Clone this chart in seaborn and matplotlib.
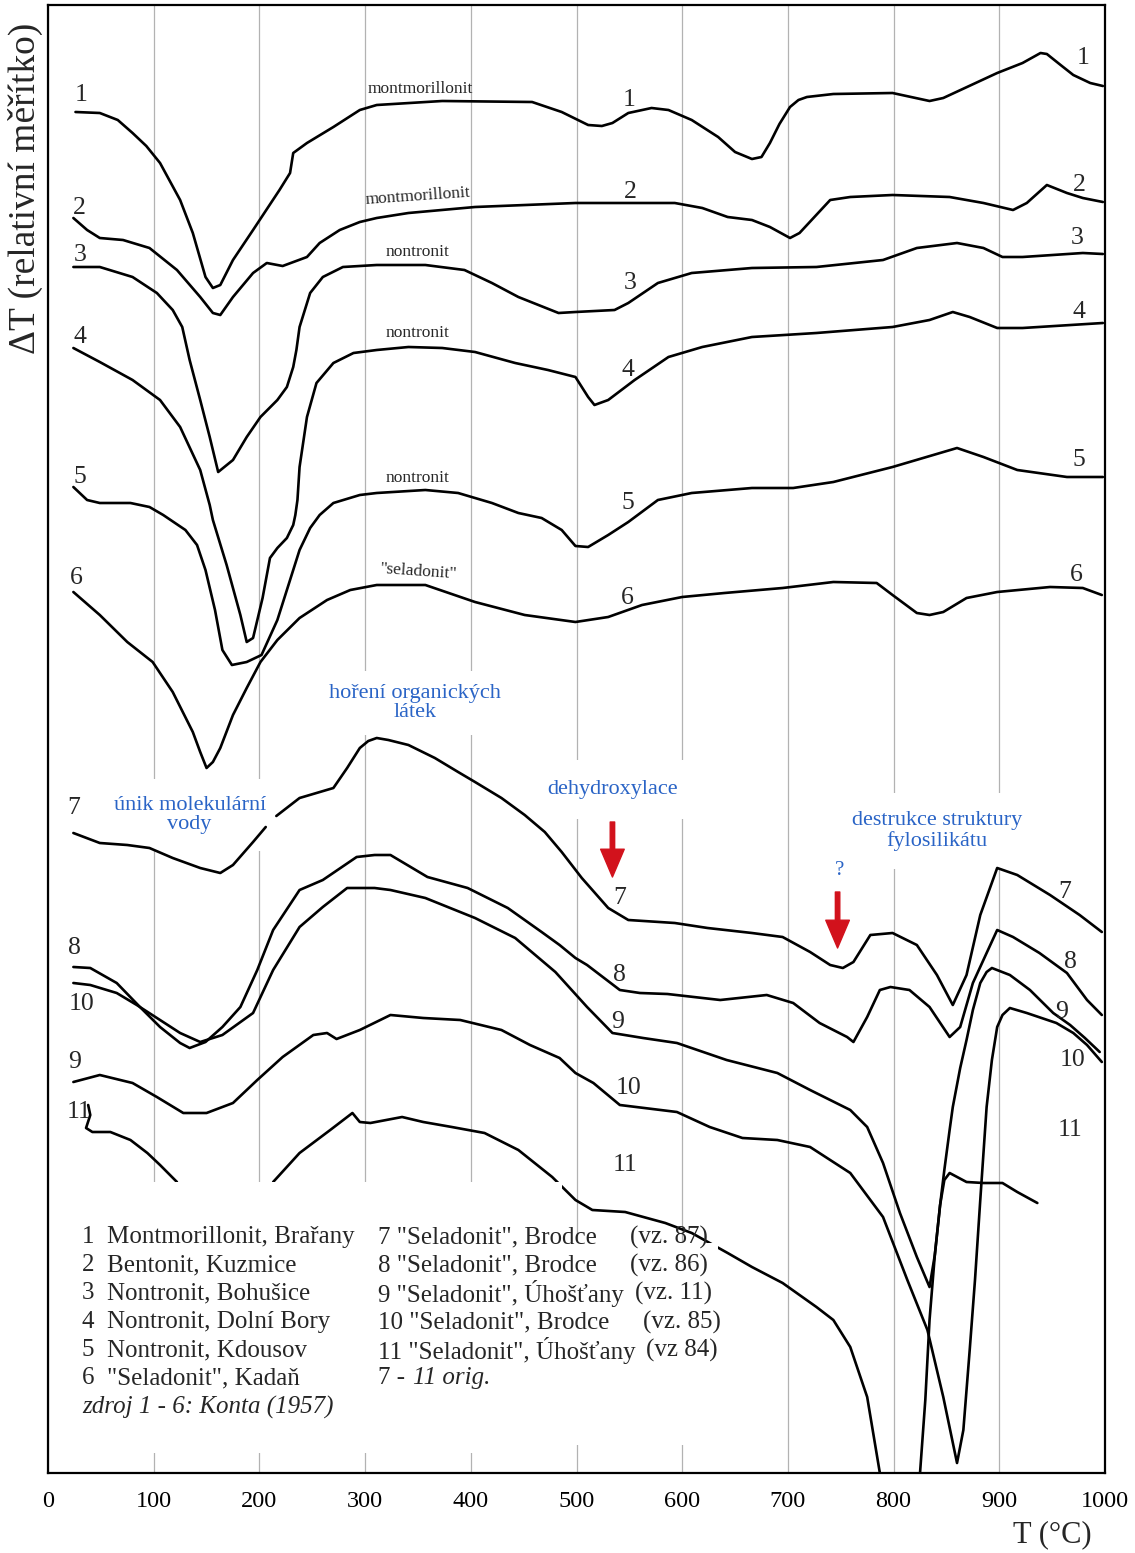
"""
DTA křivky jílových minerálů a seladonitu (ΔT vs. T)
Values read off the scanned chart; y is the relative ΔT position (pixel row, axis inverted).
"""

import matplotlib
matplotlib.use('Agg')
import matplotlib.pyplot as plt
from matplotlib.patches import Rectangle
import seaborn as sns

# ─────────────────────────────────────────────
# Data  (T in °C, dt = relative deflection, larger = lower on the chart)
# ─────────────────────────────────────────────
t1 = [26, 49, 66, 80, 93, 106, 125, 137, 149, 156, 163, 175, 194, 219, 229, 232, 245, 270, 295, 311, 373, 458,
      486, 511, 524, 534, 549, 571, 587, 609, 634, 650, 666, 675, 683, 692, 702, 710, 718, 743, 799, 834, 847, 898,
      922, 939, 945, 958, 970, 986, 998]
dt1 = [112, 113, 120, 133, 146, 163, 200, 233, 277, 288, 285, 260, 230, 190, 173, 153, 143, 127, 110, 105, 101, 102,
       112, 125, 126, 123, 113, 108, 110, 120, 137, 152, 159, 157, 143, 124, 107, 100, 97, 94, 93, 101, 98, 73,
       63, 53, 54, 65, 75, 83, 86]

t2 = [24, 37, 49, 71, 96, 122, 144, 156, 163, 175, 194, 207, 217, 222, 245, 257, 276, 295, 311, 341,
      404, 499, 593, 619, 643, 666, 683, 702, 711, 740, 759, 799, 853, 885, 913, 926, 945, 964, 979, 998]
dt2 = [218, 230, 238, 240, 248, 270, 297, 313, 315, 297, 273, 263, 265, 266, 257, 243, 230, 222, 218, 213,
       207, 203, 203, 208, 217, 220, 227, 238, 233, 200, 197, 195, 197, 203, 210, 203, 185, 193, 198, 202]

t3 = [24, 49, 80, 103, 118, 127, 134, 144, 153, 161, 175, 188, 201, 217, 226, 232, 235, 238, 248, 260,
      279, 311, 357, 394, 420, 445, 483, 499, 536, 549, 577, 609, 666, 727, 790, 822, 860, 885, 903, 922,
      979, 998]
dt3 = [267, 267, 277, 293, 310, 327, 360, 400, 437, 472, 460, 437, 417, 400, 387, 367, 350, 327, 293, 277,
       267, 265, 265, 270, 283, 297, 313, 312, 310, 303, 283, 273, 268, 267, 260, 248, 243, 248, 257, 257,
       253, 254]

t4 = [24, 49, 80, 106, 125, 144, 153, 156, 169, 182, 188, 194, 203, 210, 217, 226, 232, 234, 236, 238,
      245, 254, 270, 289, 311, 341, 373, 404, 442, 473, 499, 511, 517, 530, 555, 587, 619, 666, 727, 799,
      834, 856, 872, 898, 922, 998]
dt4 = [348, 362, 380, 400, 427, 470, 505, 520, 565, 615, 642, 638, 598, 558, 548, 538, 525, 515, 500, 467,
       417, 383, 363, 353, 350, 347, 348, 352, 363, 370, 377, 397, 405, 400, 380, 357, 347, 337, 333, 327,
       320, 312, 317, 328, 328, 323]

t5 = [24, 37, 49, 78, 96, 109, 130, 141, 149, 158, 165, 174, 188, 202, 217, 229, 238, 248, 257, 270,
      295, 311, 357, 388, 420, 445, 467, 486, 499, 511, 530, 549, 577, 609, 666, 705, 743, 799, 860, 885,
      917, 964, 998]
dt5 = [487, 500, 503, 503, 507, 515, 530, 545, 570, 610, 650, 665, 662, 655, 620, 580, 550, 528, 515, 503,
       495, 493, 490, 493, 503, 513, 518, 530, 546, 547, 535, 522, 500, 493, 488, 488, 482, 467, 448, 457,
       470, 477, 477]

t6 = [24, 49, 75, 99, 118, 137, 144, 150, 156, 163, 175, 188, 201, 217, 238, 264, 286, 311, 357, 404, 451, 499,
      530, 562, 600, 640, 695, 743, 784, 799, 822, 834, 847, 869, 898, 948, 979, 997]
dt6 = [592, 615, 642, 662, 692, 732, 752, 768, 762, 748, 715, 688, 662, 640, 618, 600, 590, 585, 585, 602, 615, 622,
       617, 605, 597, 593, 588, 582, 583, 595, 613, 615, 612, 598, 592, 587, 588, 595]

# curve 7 is interrupted by the annotation near 210 °C
t7a = [24, 49, 75, 96, 118, 144, 163, 175, 194, 206]
dt7a = [833, 843, 845, 848, 858, 868, 873, 865, 842, 827]
t7b = [216, 238, 270, 283, 295, 303, 311, 322, 341, 366, 388, 404, 429, 451, 470, 486, 505, 530, 549, 593, 624,
       666, 695, 721, 740, 752, 762, 778, 799, 822, 841, 856, 869, 882, 898, 917, 948, 976, 997]
dt7b = [816, 798, 788, 768, 748, 741, 738, 740, 745, 758, 772, 782, 798, 815, 832, 852, 878, 908, 920, 923, 928,
        933, 937, 952, 965, 968, 962, 935, 933, 945, 975, 1005, 975, 915, 868, 875, 895, 915, 932]

t8 = [24, 40, 65, 87, 106, 125, 134, 149, 165, 182, 198, 213, 238, 260, 292, 309, 324, 359, 397, 435,
      467, 484, 499, 510, 541, 560, 586, 636, 680, 705, 730, 756, 762, 775, 787, 797, 815, 834, 853, 863,
      875, 888, 898, 913, 938, 964, 983, 997]
dt8 = [967, 968, 983, 1007, 1027, 1043, 1048, 1042, 1027, 1007, 970, 930, 890, 880, 857, 855, 855, 877, 888, 908,
       932, 945, 958, 965, 990, 993, 994, 1000, 995, 1003, 1023, 1037, 1042, 1017, 990, 987, 990, 1007, 1037, 1027,
       983, 953, 930, 937, 953, 973, 1000, 1015]

t9 = [24, 40, 65, 84, 106, 125, 144, 165, 194, 213, 238, 260, 283, 309, 324, 357, 404, 442, 480, 510,
      534, 563, 595, 642, 690, 721, 759, 775, 790, 806, 822, 834, 839, 844, 848, 853, 856, 863, 869, 875,
      882, 888, 893, 910, 929, 951, 967, 981, 995]
dt9 = [983, 985, 993, 1005, 1020, 1033, 1042, 1035, 1013, 970, 927, 907, 888, 888, 890, 898, 918, 938, 972, 1007,
       1033, 1038, 1043, 1060, 1073, 1090, 1110, 1127, 1163, 1213, 1257, 1287, 1255, 1205, 1170, 1130, 1107, 1068, 1040, 1010,
       983, 972, 968, 975, 990, 1013, 1025, 1038, 1052]

t10 = [24, 49, 80, 103, 128, 150, 175, 198, 222, 251, 264, 273, 295, 324, 355, 390, 429, 456, 484, 499,
       516, 541, 595, 626, 657, 690, 721, 759, 790, 813, 832, 847, 860, 866, 872, 877, 882, 888, 893, 898,
       903, 910, 926, 954, 970, 983, 997]
dt10 = [1082, 1075, 1083, 1097, 1113, 1113, 1103, 1080, 1057, 1035, 1033, 1039, 1030, 1015, 1018, 1020, 1030, 1045, 1058, 1073,
        1083, 1105, 1112, 1127, 1138, 1140, 1147, 1173, 1217, 1280, 1330, 1397, 1463, 1430, 1350, 1280, 1200, 1107, 1060, 1027,
        1015, 1008, 1013, 1023, 1033, 1045, 1062]

# curve 11: hidden behind the legend, and leaves the chart below 790-820 °C
t11a = [38, 40, 36, 42, 59, 78, 94, 106, 122]
dt11a = [1105, 1115, 1128, 1132, 1132, 1140, 1153, 1165, 1182]
t11b = [213, 238, 267, 288, 295, 305, 335, 355, 382, 413, 445, 477, 499, 515, 546, 584, 609, 643, 666, 695,
        727, 743, 759, 775, 787, 790]
dt11b = [1182, 1153, 1130, 1113, 1122, 1123, 1117, 1122, 1127, 1133, 1150, 1177, 1200, 1210, 1212, 1223, 1233, 1253, 1267, 1283,
         1307, 1320, 1347, 1397, 1473, 1495]
t11c = [822, 825, 830, 834, 839, 844, 848, 853, 869, 885, 903, 917, 936]
dt11c = [1495, 1473, 1400, 1320, 1255, 1205, 1180, 1173, 1182, 1183, 1183, 1192, 1203]

x_ticks = list(range(0, 1001, 100))

legend_left = ["Montmorillonit, Brařany", "Bentonit, Kuzmice", "Nontronit, Bohušice",
               "Nontronit, Dolní Bory", "Nontronit, Kdousov", "\"Seladonit\", Kadaň"]
legend_right = ["7 \"Seladonit\", Brodce", "8 \"Seladonit\", Brodce", "9 \"Seladonit\", Úhošťany",
                "10 \"Seladonit\", Brodce", "11 \"Seladonit\", Úhošťany"]
legend_vz = ["(vz. 87)", "(vz. 86)", "(vz. 11)", "(vz. 85)", "(vz 84)"]

# ─────────────────────────────────────────────
# Style
# ─────────────────────────────────────────────
sns.set_theme(style="white")
plt.rcParams['font.family'] = ['Liberation Serif', 'DejaVu Serif']

BLUE = "#2a64c6"
RED = "#d2121c"

fig = plt.figure(figsize=(11.35, 15.53), dpi=100)
ax = fig.add_axes([48 / 1135, 1 - 1473 / 1553, (1105 - 48) / 1135, (1473 - 5) / 1553])

# ─────────────────────────────────────────────
# Curves
# ─────────────────────────────────────────────
curves = [(t1, dt1), (t2, dt2), (t3, dt3), (t4, dt4), (t5, dt5), (t6, dt6),
          (t7a, dt7a), (t7b, dt7b), (t8, dt8), (t9, dt9), (t10, dt10),
          (t11a, dt11a), (t11b, dt11b), (t11c, dt11c)]
for t, d in curves:
    sns.lineplot(x=t, y=d, ax=ax, sort=False, estimator=None,
                 color="black", lw=1.9, zorder=2,
                 solid_joinstyle="round", solid_capstyle="round")

ax.set_xlim(0, 1000)
ax.set_ylim(1473, 5)
ax.set_xticks(x_ticks)
ax.set_xticklabels([str(v) for v in x_ticks])
ax.set_yticks([])
ax.set_xlabel("")
ax.set_ylabel("")
ax.tick_params(axis="x", length=0, pad=13, labelsize=17.5, colors="black")
ax.grid(axis="x", color="#b2b2b2", lw=0.9)
ax.set_axisbelow(True)
for s in ax.spines.values():
    s.set_visible(True)
    s.set_color("black")
    s.set_linewidth(1.6)

# white areas behind the legend (cover grid and the middle of curve 11)
ax.add_patch(Rectangle((2, 1182), 484, 271, fc="white", ec="none", zorder=3))
ax.add_patch(Rectangle((486, 1243), 148, 202, fc="white", ec="none", zorder=3))

# ─────────────────────────────────────────────
# Curve numbers and mineral names
# ─────────────────────────────────────────────
num_kw = dict(fontsize=18.5, ha="center", va="center", zorder=4)
left_nums = [("1", 31, 95), ("2", 30, 208), ("3", 30, 255), ("4", 30, 337), ("5", 30, 477),
             ("6", 27, 578), ("7", 24, 808), ("8", 25, 948), ("10", 32, 1004), ("9", 25, 1062),
             ("11", 29, 1112)]
mid_nums = [("1", 550, 100), ("2", 551, 192), ("3", 551, 283), ("4", 549, 370), ("5", 549, 503),
            ("6", 548, 598), ("7", 541, 898), ("8", 541, 975), ("9", 539, 1022), ("10", 549, 1088),
            ("11", 546, 1165)]
right_nums = [("1", 979, 58), ("2", 976, 185), ("3", 974, 238), ("4", 975, 312), ("5", 975, 460),
              ("6", 973, 575), ("7", 962, 892), ("8", 967, 962), ("9", 959, 1012), ("10", 969, 1060),
              ("11", 967, 1130)]
for s, x, y in left_nums + mid_nums + right_nums:
    ax.text(x, y, s, **num_kw)

name_kw = dict(fontsize=12.5, ha="center", va="center", zorder=4)
ax.text(352, 89, "montmorillonit", **name_kw)
ax.text(350, 196, "montmorillonit", rotation=4, **name_kw)
ax.text(350, 252, "nontronit", **name_kw)
ax.text(350, 333, "nontronit", **name_kw)
ax.text(350, 478, "nontronit", **name_kw)
ax.text(351, 572, "\"seladonit\"", rotation=-4, **name_kw)

# ─────────────────────────────────────────────
# Process annotations (blue) and arrows (red)
# ─────────────────────────────────────────────
ann_kw = dict(fontsize=16, color=BLUE, ha="center", va="center", linespacing=1.05, zorder=1)
ann_box = dict(boxstyle="square,pad=0.55", fc="white", ec="none")
ax.text(347, 703, "hoření organických\nlátek", bbox=ann_box, **ann_kw)
ax.text(134, 815, "únik molekulární\nvody", bbox=dict(boxstyle="square,pad=0.75", fc="white", ec="none"), **ann_kw)
ax.text(534, 789, "dehydroxylace", bbox=dict(boxstyle="square,pad=0.9", fc="white", ec="none"), **ann_kw)
ax.text(841, 831, "destrukce struktury\nfylosilikátu", bbox=dict(boxstyle="square,pad=0.8", fc="white", ec="none"), **ann_kw)
ax.text(749, 870, "?", fontsize=15, color=BLUE, ha="center", va="center", zorder=4)

arrow = dict(arrowstyle="simple,head_width=0.85,head_length=1.0,tail_width=0.16",
             color=RED, shrinkA=0, shrinkB=0, mutation_scale=20)
ax.annotate("", xy=(534, 877), xytext=(534, 822), arrowprops=arrow, zorder=4)
ax.annotate("", xy=(747, 948), xytext=(747, 892), arrowprops=arrow, zorder=4)

# ─────────────────────────────────────────────
# Legend text
# ─────────────────────────────────────────────
rows = [1237, 1265, 1293, 1322, 1350, 1378, 1407]
leg_kw = dict(fontsize=18, va="center", ha="left", zorder=4)
for i, name in enumerate(legend_left):
    ax.text(32, rows[i], str(i + 1), **leg_kw)
    ax.text(56, rows[i], name, **leg_kw)
ax.text(32, rows[6], "zdroj 1 - 6: Konta (1957)", style="italic", **leg_kw)

vz_x = [551, 551, 555, 563, 566]
for i, name in enumerate(legend_right):
    ax.text(312, rows[i], name, **leg_kw)
    ax.text(vz_x[i], rows[i], legend_vz[i], **leg_kw)
ax.text(312, rows[5], "7 -", **leg_kw)
ax.text(345, rows[5], "11 orig.", style="italic", **leg_kw)

# ─────────────────────────────────────────────
# Axis titles
# ─────────────────────────────────────────────
fig.text(25 / 1135, 1 - 188 / 1553, "ΔT (relativní měřítko)", rotation=90,
         fontsize=27, ha="center", va="center")
fig.text(1052 / 1135, 1 - 1535 / 1553, "T (°C)", fontsize=22, ha="center", va="center")

fig.savefig("out.png", dpi=100)
